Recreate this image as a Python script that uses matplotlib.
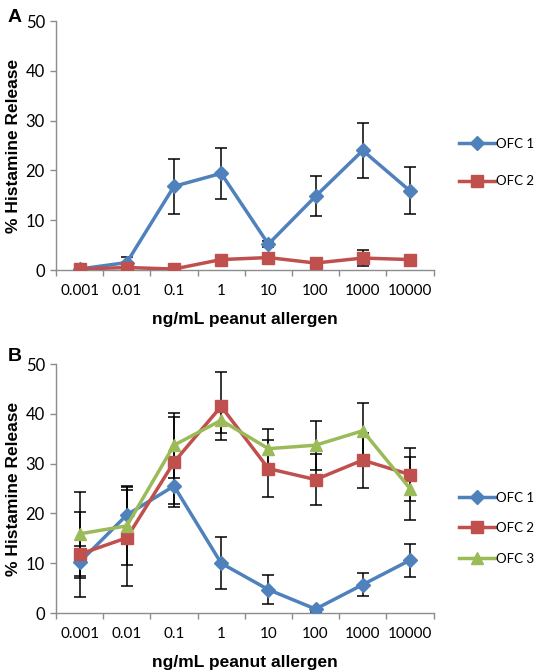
import matplotlib
matplotlib.use("Agg")
import matplotlib.pyplot as plt
import numpy as np

categories = ["0.001", "0.01", "0.1", "1", "10", "100", "1000", "10000"]

# Panel A
a_ofc1 = [0.2, 1.5, 16.8, 19.4, 5.2, 14.8, 24.0, 15.9]
a_ofc1_err = [0.3, 1.2, 5.5, 5.1, 0.6, 4.0, 5.6, 4.7]
a_ofc2 = [0.2, 0.5, 0.2, 2.1, 2.5, 1.4, 2.4, 2.1]
a_ofc2_err = [0.2, 0.3, 0.2, 0.5, 1.0, 0.5, 1.6, 0.5]

# Panel B
b_ofc1 = [10.2, 19.7, 25.5, 10.0, 4.7, 0.8, 5.7, 10.6]
b_ofc1_err = [3.2, 5.8, 3.6, 5.2, 2.9, 0.5, 2.3, 3.3]
b_ofc2 = [11.8, 15.1, 30.3, 41.5, 29.0, 26.8, 30.7, 27.8]
b_ofc2_err = [8.5, 9.7, 9.0, 6.8, 5.8, 5.2, 5.5, 5.3]
b_ofc3 = [15.9, 17.5, 33.7, 38.7, 33.0, 33.7, 36.6, 25.0]
b_ofc3_err = [8.4, 7.8, 6.5, 2.5, 3.9, 4.9, 5.6, 6.4]

blue = "#4F81BD"
red = "#C0504D"
green = "#9BBB59"
grey = "#8C8C8C"

tick_font = "Lato"
label_font = "Liberation Sans"

fig = plt.figure(figsize=(5.37, 6.71), dpi=100)

def style_axes(ax):
    x = np.arange(len(categories))
    ax.set_xlim(-0.5, len(categories) - 0.5)
    ax.set_ylim(0, 50)
    ax.set_yticks(np.arange(0, 51, 10))
    ax.set_xticks(x)
    ax.set_xticklabels(categories, fontfamily=tick_font, fontsize=11)
    ax.set_xticks(np.arange(-0.5, len(categories), 1), minor=True)
    ax.tick_params(axis="x", which="major", length=0, pad=10)
    ax.tick_params(axis="x", which="minor", length=4, color=grey, width=1)
    ax.tick_params(axis="y", length=4, color=grey, width=1, pad=4)
    for lab in ax.get_yticklabels():
        lab.set_fontfamily(tick_font)
        lab.set_fontsize(12)
    for s in ["top", "right"]:
        ax.spines[s].set_visible(False)
    for s in ["left", "bottom"]:
        ax.spines[s].set_color(grey)
        ax.spines[s].set_linewidth(1)
    ax.set_ylabel("% Histamine Release", fontfamily=label_font, fontweight="bold", fontsize=12.5, labelpad=3)
    ax.set_xlabel("ng/mL peanut allergen", fontfamily=label_font, fontweight="bold", fontsize=12.5, labelpad=10)

def series(ax, vals, errs, color, marker, ms, label):
    x = np.arange(len(categories))
    ax.errorbar(x, vals, yerr=errs, fmt="none", ecolor="black", elinewidth=1.1, capsize=4, capthick=1.1, zorder=2)
    ax.plot(x, vals, color=color, lw=2.5, marker=marker, ms=ms, mfc=color, mec=color, label=label, zorder=3)

leg_kw = dict(loc="center left", bbox_transform=fig.transFigure, frameon=False,
              handlelength=2.7, handletextpad=0.1, borderpad=0, borderaxespad=0,
              prop={"family": tick_font, "size": 9.5})

axA = fig.add_axes([0.1043, 0.5976, 0.7030, 0.3711])
series(axA, a_ofc1, a_ofc1_err, blue, "D", 7, "OFC 1")
series(axA, a_ofc2, a_ofc2_err, red, "s", 9, "OFC 2")
style_axes(axA)
axA.legend(bbox_to_anchor=(0.855, 0.758), labelspacing=1.95, **leg_kw)

axB = fig.add_axes([0.1043, 0.0864, 0.7030, 0.3711])
series(axB, b_ofc1, b_ofc1_err, blue, "D", 7, "OFC 1")
series(axB, b_ofc2, b_ofc2_err, red, "s", 9, "OFC 2")
series(axB, b_ofc3, b_ofc3_err, green, "^", 9, "OFC 3")
style_axes(axB)
axB.legend(bbox_to_anchor=(0.855, 0.213), labelspacing=1.4, **leg_kw)

fig.text(0.014, 0.974, "A", fontfamily=label_font, fontweight="bold", fontsize=14, va="center")
fig.text(0.014, 0.468, "B", fontfamily=label_font, fontweight="bold", fontsize=14, va="center")

fig.savefig("out.png", dpi=100)
